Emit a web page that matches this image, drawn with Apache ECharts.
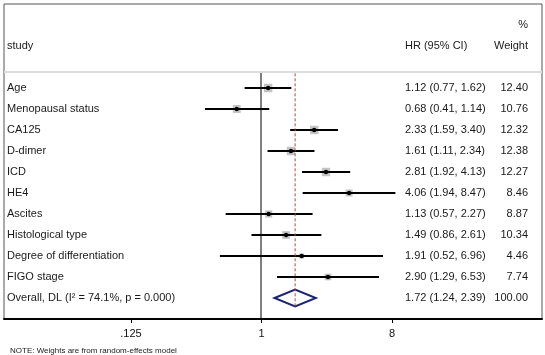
<!DOCTYPE html>
<html>
<head>
<meta charset="utf-8">
<script src="https://cdn.jsdelivr.net/npm/echarts@6/dist/echarts.min.js"></script>
<style>
  html, body { margin: 0; padding: 0; background: #fff; }
  #main { width: 545px; height: 355px; }
</style>
</head>
<body>
<div id="main"></div>
<script>
// data
var studies = ['Age', 'Menopausal status', 'CA125', 'D-dimer', 'ICD', 'HE4', 'Ascites',
    'Histological type', 'Degree of differentiation', 'FIGO stage'];
var hr = [1.12, 0.68, 2.33, 1.61, 2.81, 4.06, 1.13, 1.49, 1.91, 2.90];
var lower = [0.77, 0.41, 1.59, 1.11, 1.92, 1.94, 0.57, 0.86, 0.52, 1.29];
var upper = [1.62, 1.14, 3.40, 2.34, 4.13, 8.47, 2.27, 2.61, 6.96, 6.53];
var weights = [12.40, 10.76, 12.32, 12.38, 12.27, 8.46, 8.87, 10.34, 4.46, 7.74];
var overall = { label: 'Overall, DL (I\u00B2 = 74.1%, p = 0.000)', hr: 1.72, lower: 1.24, upper: 2.39, weight: 100.00 };
var tickValues = [0.125, 1, 8];
var tickLabels = ['.125', '1', '8'];

var font = 'Liberation Sans, Arial, sans-serif';
var overallRow = studies.length;

function fmt2(v) { return v.toFixed(2); }
function rowText(v, col) {
    if (v === -3) return col === 'w' ? '%' : '';
    if (v === -2) return col === 's' ? 'study' : (col === 'h' ? 'HR (95% CI)' : 'Weight');
    if (v >= 0 && v < studies.length) {
        if (col === 's') return studies[v];
        if (col === 'h') return fmt2(hr[v]) + ' (' + fmt2(lower[v]) + ', ' + fmt2(upper[v]) + ')';
        return fmt2(weights[v]);
    }
    if (v === overallRow) {
        if (col === 's') return overall.label;
        if (col === 'h') return fmt2(overall.hr) + ' (' + fmt2(overall.lower) + ', ' + fmt2(overall.upper) + ')';
        return fmt2(overall.weight);
    }
    return '';
}

var studyData = studies.map(function (s, i) {
    return [hr[i], i, lower[i], upper[i], weights[i]];
});

// log2 axis: 1 sits at x=261, 43.6 px per doubling, grid from 4 to 542
var px = 43.6;
var xMin = Math.pow(2, (4 - 261) / px);
var xMax = Math.pow(2, (542 - 261) / px);

var myChart = echarts.init(document.getElementById('main'));
myChart.setOption({
    animation: false,
    title: {
        text: 'NOTE: Weights are from random-effects model',
        left: 5, top: 342,
        textStyle: { fontSize: 8, fontWeight: 'normal', color: '#222', fontFamily: font }
    },
    grid: [
        { left: 4, right: 3, top: 4, bottom: 36, show: true, borderColor: '#555', borderWidth: 1, outerBoundsMode: 'none' },
        { left: 131, right: 153, top: 4, bottom: 36, outerBoundsMode: 'none' }
    ],
    xAxis: [
        {
            type: 'log', logBase: 2, gridIndex: 0, min: xMin, max: xMax,
            axisLine: { show: true, onZero: false, lineStyle: { color: '#000', width: 2 } },
            axisTick: { show: false }, axisLabel: { show: false }, splitLine: { show: false }
        },
        {
            type: 'value', gridIndex: 1, min: -3, max: 3, interval: 3,
            axisLine: { show: false, onZero: false },
            axisTick: { show: true, length: 4, lineStyle: { color: '#000' } },
            axisLabel: {
                margin: 9, fontSize: 11, color: '#111', fontFamily: font,
                formatter: function (v) {
                    var i = tickValues.indexOf(Math.pow(2, v));
                    return i >= 0 ? tickLabels[i] : '';
                }
            },
            splitLine: { show: false }
        }
    ],
    yAxis: [
        {
            type: 'value', gridIndex: 0, inverse: true, min: -4, max: 11, interval: 1,
            axisLine: { show: false }, axisTick: { show: false }, splitLine: { show: false },
            axisLabel: {
                inside: true, margin: 3, fontSize: 11, color: '#1a1a1a', fontFamily: font,
                formatter: function (v) { return rowText(v, 's'); }
            }
        },
        {
            type: 'value', gridIndex: 0, inverse: true, min: -4, max: 11, interval: 1,
            position: 'right', offset: -137,
            axisLine: { show: false }, axisTick: { show: false }, splitLine: { show: false },
            axisLabel: {
                inside: false, margin: 0, fontSize: 11, color: '#1a1a1a', fontFamily: font,
                formatter: function (v) { return rowText(v, 'h'); }
            }
        },
        {
            type: 'value', gridIndex: 0, inverse: true, min: -4, max: 11, interval: 1,
            position: 'right',
            axisLine: { show: false }, axisTick: { show: false }, splitLine: { show: false },
            axisLabel: {
                inside: true, margin: 14, fontSize: 11, color: '#1a1a1a', fontFamily: font,
                formatter: function (v) { return rowText(v, 'w'); }
            }
        },
        { type: 'value', gridIndex: 1, show: false, min: 0, max: 1 }
    ],
    series: [
        {
            // header separator and line of no effect
            type: 'line', xAxisIndex: 0, yAxisIndex: 0,
            data: [[1, -0.76], [1, 11]],
            symbol: 'none', lineStyle: { color: '#000', width: 1 },
            markLine: {
                silent: true, symbol: 'none', label: { show: false },
                lineStyle: { color: '#dcdcdc', width: 2, type: 'solid' },
                data: [{ yAxis: -0.76 }]
            }
        },
        {
            // pooled estimate
            type: 'line', xAxisIndex: 0, yAxisIndex: 0,
            data: [[overall.hr, -0.7], [overall.hr, overallRow + 0.45]],
            symbol: 'none', lineStyle: { color: '#a84c4c', width: 1, type: [3, 2] }
        },
        {
            type: 'custom', xAxisIndex: 0, yAxisIndex: 0,
            encode: { x: [0, 2, 3], y: 1 },
            data: studyData,
            renderItem: function (params, api) {
                var c = api.coord([api.value(0), api.value(1)]);
                var lo = api.coord([api.value(2), api.value(1)]);
                var hi = api.coord([api.value(3), api.value(1)]);
                var s = 2.4 * Math.sqrt(api.value(4));
                return {
                    type: 'group',
                    children: [
                        { type: 'rect', shape: { x: c[0] - s / 2, y: c[1] - s / 2, width: s, height: s }, style: { fill: '#c4c4c4' } },
                        { type: 'line', shape: { x1: lo[0], y1: lo[1], x2: hi[0], y2: hi[1] }, style: { stroke: '#000', lineWidth: 2 } },
                        { type: 'circle', shape: { cx: c[0], cy: c[1], r: 2.2 }, style: { fill: '#000' } }
                    ]
                };
            }
        },
        {
            type: 'custom', xAxisIndex: 0, yAxisIndex: 0,
            encode: { x: [0, 2, 3], y: 1 },
            data: [[overall.hr, overallRow, overall.lower, overall.upper]],
            renderItem: function (params, api) {
                var c = api.coord([api.value(0), api.value(1)]);
                var lo = api.coord([api.value(2), api.value(1)]);
                var hi = api.coord([api.value(3), api.value(1)]);
                var h = 8.5;
                return {
                    type: 'polygon',
                    shape: { points: [[lo[0], c[1]], [c[0], c[1] - h], [hi[0], c[1]], [c[0], c[1] + h]] },
                    style: { fill: 'none', stroke: '#1c2570', lineWidth: 2 }
                };
            }
        }
    ]
});
</script>
</body>
</html>
